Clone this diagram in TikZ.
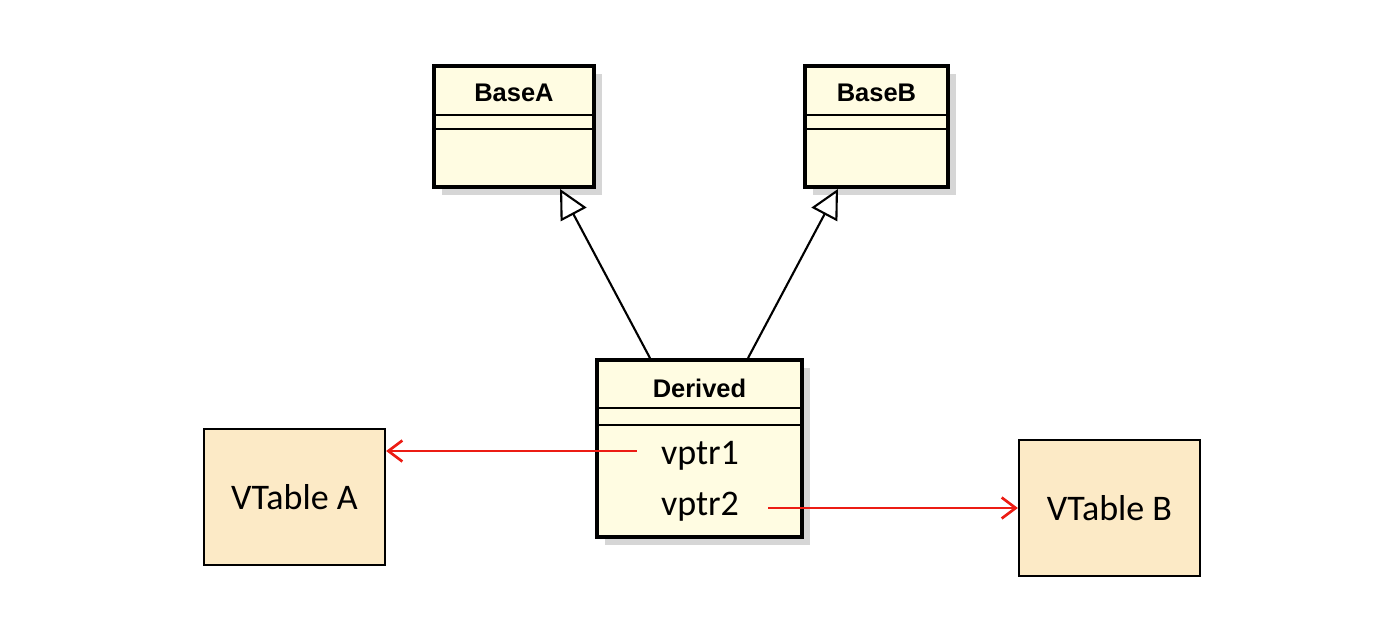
\documentclass[tikz,border=0pt]{standalone}
\usepackage{fontspec}
\setmainfont{Carlito}
\newfontfamily\umlfont{Liberation Sans}
\usetikzlibrary{positioning, arrows.meta, calc, shadows}

\definecolor{classfill}{RGB}{255,252,226}
\definecolor{tablefill}{RGB}{252,234,198}
\definecolor{shadowgray}{RGB}{214,214,214}
\definecolor{ptrred}{RGB}{236,28,20}

\begin{document}
\begin{tikzpicture}[
  x=0.02cm, y=-0.02cm,
  umlclass/.style={draw, line width=2.2pt, fill=classfill, rectangle,
                   drop shadow={shadow xshift=0.16cm, shadow yshift=-0.16cm,
                                fill=shadowgray, opacity=1}},
  classname/.style={font=\umlfont\bfseries\fontsize{14.5}{17}\selectfont, inner sep=0pt},
  vtable/.style={draw, line width=1.3pt, fill=tablefill, minimum width=3.62cm,
                 minimum height=2.72cm, font=\fontsize{20.5}{24}\selectfont},
  member/.style={font=\fontsize{20.5}{24}\selectfont, inner sep=0pt},
  inherit/.style={-{Triangle[length=0.58cm, width=0.58cm, fill=white]}, line width=1.2pt},
  ptr/.style={-{Straight Barb[length=0.28cm, width=0.42cm]}, ptrred, line width=1.5pt},
  sep/.style={line width=1.2pt},
]
\useasboundingbox (0,0) rectangle (1384,622);

% Base classes
\node[umlclass, minimum width=3.2cm, minimum height=2.42cm] (baseA) at (514,126.5) {};
\node[umlclass, minimum width=2.86cm, minimum height=2.42cm] (baseB) at (876.5,126.5) {};
\node[classname] at ($(baseA.north)+(0,29)$) {BaseA};
\node[classname] at ($(baseB.north)+(0,29)$) {BaseB};
\draw[sep] ($(baseA.north west)+(0,51)$) -- ($(baseA.north east)+(0,51)$);
\draw[sep] ($(baseA.north west)+(0,65)$) -- ($(baseA.north east)+(0,65)$);
\draw[sep] ($(baseB.north west)+(0,51)$) -- ($(baseB.north east)+(0,51)$);
\draw[sep] ($(baseB.north west)+(0,65)$) -- ($(baseB.north east)+(0,65)$);

% Derived class
\node[umlclass, minimum width=4.1cm, minimum height=3.54cm] (derived) at (699.5,448.5) {};
\node[classname] at ($(derived.north)+(0,30)$) {Derived};
\draw[sep] ($(derived.north west)+(0,50)$) -- ($(derived.north east)+(0,50)$);
\draw[sep] ($(derived.north west)+(0,67)$) -- ($(derived.north east)+(0,67)$);
\node[member] (vp1) at (700,456) {vptr1};
\node[member] (vp2) at (700,507) {vptr2};

% Virtual tables
\node[vtable] (vtA) at (294.5,497) {VTable A};
\node[vtable] (vtB) at (1109.5,508) {VTable B};

% Inheritance
\coordinate (dA) at ($(derived.north)+(-49.5,0)$);
\coordinate (dB) at ($(derived.north)+(48.5,0)$);
\draw[inherit] (dA) -- ($(baseA.south)+(46,0)$);
\draw[inherit] (dB) -- ($(baseB.south)+(-38.5,0)$);

% Pointers
\coordinate (p1) at ($(vp1.west)+(-24,-5)$);
\coordinate (p2) at ($(vp2.east)+(29,1)$);
\draw[ptr] (p1) -- (p1 -| vtA.east);
\draw[ptr] (p2) -- (p2 -| vtB.west);

\end{tikzpicture}
\end{document}
